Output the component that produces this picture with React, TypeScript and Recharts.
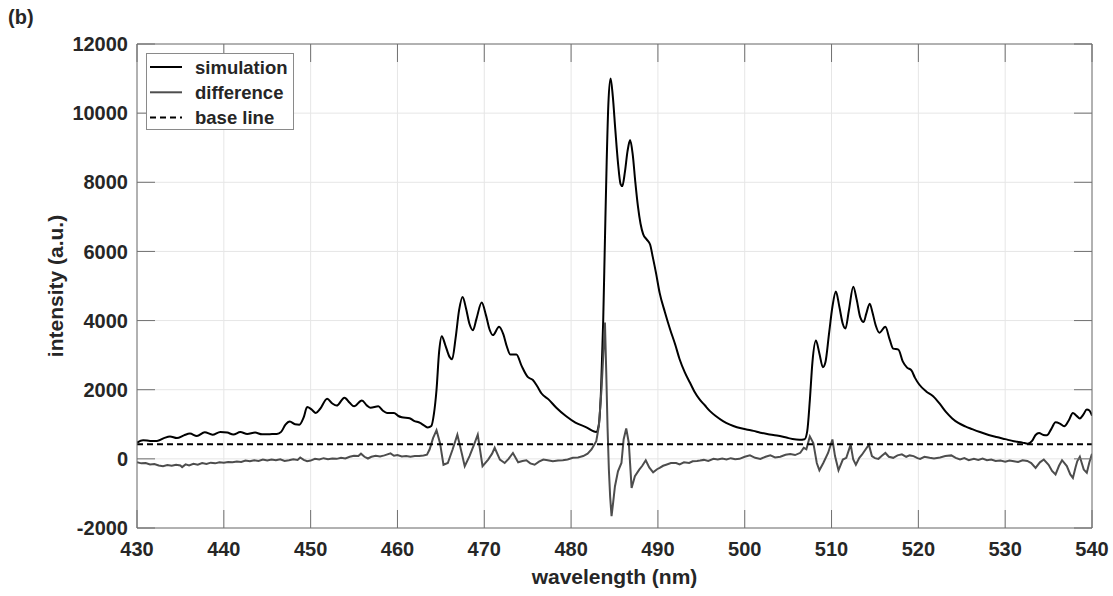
import { LineChart, Line, XAxis, YAxis, CartesianGrid, Legend } from 'recharts';

// wavelength (nm), intensity (a.u.)
const simulation: [number, number][] = [
  [430, 470], [430.7, 540], [431.5, 520], [432.3, 515], [433.1, 600], [433.8, 650], [434.6, 600], [435.4, 680],
  [436.1, 730], [436.9, 660], [437.8, 770], [438.7, 700], [439.6, 780], [440.4, 760], [441.1, 705], [441.9, 775],
  [442.7, 720], [443.6, 760], [444.4, 710], [445.3, 715], [446.1, 720], [446.6, 780], [447.1, 990], [447.6, 1080],
  [448.2, 1000], [448.7, 990], [449.2, 1200], [449.6, 1500], [450.1, 1430], [450.6, 1330], [451.1, 1450], [451.9, 1740],
  [452.5, 1600], [453.0, 1540], [453.9, 1770], [454.5, 1620], [455.0, 1520], [455.9, 1690], [456.5, 1540], [456.9, 1480],
  [457.8, 1520], [458.3, 1400], [458.8, 1330], [459.6, 1330], [460.1, 1240], [460.5, 1205], [461.4, 1175], [461.9, 1100],
  [462.6, 1040], [463.1, 960], [463.5, 910], [463.9, 950], [464.2, 1300], [464.5, 2000], [464.8, 3100], [465.1, 3550],
  [465.5, 3300], [466.0, 2950], [466.3, 2880], [466.7, 3500], [467.1, 4300], [467.5, 4680], [467.9, 4350], [468.3, 3900],
  [468.7, 3720], [469.1, 4050], [469.7, 4520], [470.2, 4150], [470.6, 3750], [471.0, 3580], [471.7, 3820], [472.2, 3600],
  [472.6, 3250], [473.0, 3020], [473.7, 3020], [474.3, 2690], [475.0, 2370], [475.6, 2280], [476.1, 2100], [476.6, 1890],
  [477.4, 1720], [478.3, 1480], [479.4, 1240], [480.5, 1050], [481.7, 920], [482.9, 775], [483.2, 1000], [483.45, 2000],
  [483.7, 4000], [483.9, 6350], [484.1, 8600], [484.3, 10300], [484.55, 11000], [484.8, 10500], [485.1, 9500], [485.4, 8570],
  [485.7, 7950], [485.9, 7890], [486.2, 8300], [486.5, 8900], [486.8, 9220], [487.1, 8800], [487.4, 8000], [487.7, 7300],
  [488.0, 6800], [488.3, 6500], [488.7, 6350], [489.1, 6200], [489.4, 5850], [489.8, 5350], [490.2, 4800], [490.8, 4250],
  [491.4, 3750], [492.0, 3300], [492.5, 2880], [493.1, 2500], [493.7, 2200], [494.2, 1950], [494.8, 1720], [495.4, 1550],
  [496.0, 1380], [496.7, 1230], [497.5, 1090], [498.3, 990], [499.1, 915], [500.2, 850], [501.0, 810], [501.8, 755],
  [502.7, 715], [503.7, 675], [504.8, 615], [505.5, 575], [506.3, 555], [506.9, 570], [507.2, 800], [507.5, 1700],
  [507.8, 2800], [508.2, 3420], [508.6, 3050], [509.0, 2650], [509.3, 2800], [509.7, 3600], [510.1, 4400], [510.5, 4840],
  [510.9, 4400], [511.3, 3900], [511.6, 3770], [512.0, 4300], [512.5, 4980], [512.9, 4600], [513.3, 4100], [513.7, 3960],
  [514.0, 4200], [514.4, 4490], [514.7, 4250], [515.1, 3850], [515.5, 3650], [516.2, 3820], [516.7, 3450], [517.1, 3190],
  [517.7, 3160], [518.2, 2820], [518.7, 2640], [519.2, 2560], [519.6, 2350], [520.1, 2150], [520.9, 1950], [521.7, 1810],
  [522.5, 1580], [523.2, 1350], [523.9, 1170], [524.6, 1040], [525.4, 940], [526.2, 860], [527.1, 775], [528.1, 690],
  [529.0, 630], [530.0, 570], [531.0, 510], [532.0, 470], [532.6, 440], [533.1, 520], [533.5, 690], [533.9, 750],
  [534.4, 690], [534.8, 680], [535.3, 860], [535.8, 1060], [536.3, 1020], [536.8, 940], [537.3, 1100], [537.8, 1330],
  [538.2, 1250], [538.6, 1170], [539.0, 1280], [539.4, 1430], [539.7, 1400], [540.0, 1250],
];

const difference: [number, number][] = [
  [430.0, -100], [430.5, -130], [431.0, -120], [431.5, -160], [432.0, -150], [432.5, -190], [433.0, -210], [433.5, -180],
  [434.0, -200], [434.5, -170], [435.0, -190], [435.2, -240], [435.6, -160], [436.0, -190], [436.5, -140], [437.0, -170],
  [437.5, -120], [438.0, -150], [438.5, -110], [439.0, -130], [439.5, -100], [440.0, -110], [440.5, -90], [441.0, -100],
  [441.5, -80], [442.0, -90], [442.5, -50], [443.0, -70], [443.5, -40], [444.0, -60], [444.5, -20], [445.0, -50],
  [445.5, -20], [446.0, -40], [446.5, -10], [447.0, -60], [447.5, -40], [448.0, -10], [448.5, -30], [448.8, 40],
  [449.2, -30], [449.6, -70], [450.0, -50], [450.5, 0], [451.0, -20], [451.5, 20], [452.0, -10], [452.5, 10],
  [453.0, 0], [453.5, 30], [454.0, 10], [454.5, 60], [455.0, 90], [455.5, 80], [455.8, 150], [456.2, 60],
  [456.6, 10], [457.0, 60], [457.5, 90], [458.0, 70], [458.5, 100], [459.2, 160], [459.6, 90], [460.0, 110],
  [460.5, 70], [461.0, 80], [461.5, 60], [462.0, 80], [462.5, 80], [463.0, 100], [463.4, 120], [463.7, 270],
  [464.1, 600], [464.5, 830], [464.9, 460], [465.3, -170], [465.8, -120], [466.35, 270], [466.9, 700], [467.4, 170],
  [467.75, -210], [468.3, 80], [468.8, 400], [469.25, 700], [469.8, -210], [470.45, -20], [470.9, 150], [471.2, 320],
  [471.8, -20], [472.35, -120], [472.8, 0], [473.3, 170], [473.9, -100], [474.4, -60], [474.85, -40], [475.3, -130],
  [475.8, -170], [476.3, -80], [476.8, -20], [477.3, -40], [477.9, -70], [478.5, -50], [479.05, -40], [479.6, -20],
  [480.2, 30], [480.8, 40], [481.4, 80], [481.9, 150], [482.35, 270], [482.9, 510], [483.2, 950], [483.5, 2000],
  [483.75, 3200], [483.9, 3940], [484.05, 2500], [484.2, 900], [484.35, -300], [484.5, -1100], [484.66, -1660], [484.85, -1250],
  [485.05, -800], [485.4, -360], [485.8, -120], [486.05, 560], [486.35, 880], [486.65, 460], [486.97, -840], [487.35, -500],
  [487.85, -310], [488.2, -200], [488.6, -40], [489.0, -250], [489.45, -390], [489.9, -300], [490.2, -260], [490.6, -200],
  [490.95, -170], [491.5, -120], [492.1, -120], [492.5, -160], [493.0, -100], [493.6, -120], [494.0, -70], [494.5, -60],
  [494.85, -50], [495.3, -30], [495.8, -60], [496.4, 0], [496.9, -20], [497.4, 10], [497.9, -20], [498.4, 20],
  [498.9, -10], [499.4, 0], [500.0, 60], [500.6, 100], [501.2, 30], [501.8, 0], [502.4, 60], [502.95, 100],
  [503.5, 40], [504.1, 60], [504.7, 120], [505.25, 140], [505.8, 110], [506.4, 175], [506.8, 320], [507.1, 280],
  [507.5, 650], [507.9, 460], [508.3, -120], [508.6, -330], [509.05, -120], [509.6, 170], [510.1, 560], [510.4, 80],
  [510.8, -330], [511.3, -20], [511.7, 30], [512.2, 410], [512.5, -20], [512.8, -170], [513.2, 30], [513.5, 120],
  [514.3, 410], [514.65, 80], [515.0, 20], [515.4, 0], [515.8, 90], [516.2, 170], [516.6, 60], [517.1, 30],
  [517.6, 100], [518.1, 130], [518.6, 60], [519.0, 100], [519.45, 80], [519.9, 20], [520.2, 0], [520.7, 60],
  [521.3, 30], [521.8, 10], [522.5, 40], [523.1, 80], [523.8, 100], [524.3, 30], [524.8, -20], [525.3, 20],
  [525.8, -40], [526.4, 0], [526.9, -30], [527.4, 10], [527.9, -40], [528.4, -20], [528.9, -60], [529.45, -50],
  [530.0, -80], [530.5, -50], [531.0, -70], [531.5, -90], [532.0, -40], [532.55, -60], [533.0, -120], [533.5, -260],
  [534.0, -100], [534.45, -20], [535.0, -170], [535.4, -350], [535.8, -450], [536.2, -200], [536.55, -40], [537.1, -210],
  [537.5, -450], [537.8, -550], [538.1, -250], [538.3, -70], [538.6, 60], [539.05, -310], [539.4, -400], [539.7, -100],
  [540.0, 150],
];

const baseLine: [number, number][] = [[430, 420], [540, 420]];

const xTicks = [430, 440, 450, 460, 470, 480, 490, 500, 510, 520, 530, 540];
const yTicks = [-2000, 0, 2000, 4000, 6000, 8000, 10000, 12000];
const seriesNames = ['simulation', 'difference', 'base line'];

const toRows = (pts: [number, number][]) => pts.map(([nm, v]) => ({ nm, v }));

const FONT = 'Arial, "Liberation Sans", Helvetica, sans-serif';
const TEXT = '#262626';
const FRAME = '#707070';

// tick marks only, no labels (used for the inner ticks of the boxed frame)
const NoLabel = () => <g />;

function LegendBox() {
  const styles = [
    { stroke: '#000', dash: undefined },
    { stroke: '#4d4d4d', dash: undefined },
    { stroke: '#000', dash: '6 4' },
  ];
  return (
    <svg width={148} height={77} style={{ display: 'block' }}>
      <rect x={0.5} y={0.5} width={147} height={76} fill="#fff" stroke="#8a8a8a" />
      {seriesNames.map((name, i) => (
        <g key={name}>
          <line x1={4} x2={36} y1={14 + i * 25.3} y2={14 + i * 25.3} stroke={styles[i].stroke}
            strokeWidth={2} strokeDasharray={styles[i].dash} />
          <text x={49} y={14 + i * 25.3} dy="0.36em" fontFamily={FONT} fontWeight="bold" fontSize={18.5} fill={TEXT}>
            {name}
          </text>
        </g>
      ))}
    </svg>
  );
}

export default function App() {
  const tickStyle = { fontFamily: FONT, fontWeight: 'bold', fontSize: 20, fill: TEXT };
  return (
    <div style={{ position: 'absolute', left: 0, top: 0, width: 1113, height: 596, background: '#fff' }}>
      <div style={{ position: 'absolute', left: 8, top: 6, fontFamily: FONT, fontWeight: 'bold', fontSize: 20, color: TEXT }}>
        (b)
      </div>
      <LineChart width={1113} height={596} margin={{ top: 44, right: 21, bottom: 0, left: 0 }}>
        <CartesianGrid xAxisId="x" yAxisId="y" stroke="#e6e6e6" strokeWidth={1} />
        <XAxis xAxisId="x" dataKey="nm" type="number" domain={[430, 540]} ticks={xTicks} allowDataOverflow
          height={68} tickLine={false} tickSize={0} tickMargin={14} axisLine={{ stroke: FRAME }} tick={tickStyle}
          label={{ value: 'wavelength (nm)', position: 'insideBottom', offset: 12, style: { ...tickStyle, fontSize: 21 } }} />
        <XAxis xAxisId="xb" dataKey="nm" type="number" domain={[430, 540]} ticks={xTicks} allowDataOverflow
          orientation="bottom" mirror height={1} tick={NoLabel} tickSize={18} axisLine={false} tickLine={{ stroke: FRAME }} />
        <XAxis xAxisId="xt" dataKey="nm" type="number" domain={[430, 540]} ticks={xTicks} allowDataOverflow
          orientation="top" mirror height={1} tick={NoLabel} tickSize={18} axisLine={{ stroke: FRAME }} tickLine={{ stroke: FRAME }} />
        <YAxis yAxisId="y" type="number" domain={[-2000, 12000]} ticks={yTicks} allowDataOverflow width={137}
          tickLine={false} tickSize={0} tickMargin={9} axisLine={{ stroke: FRAME }} tick={tickStyle}
          label={{ value: 'intensity (a.u.)', angle: -90, position: 'insideLeft', offset: 56, style: { ...tickStyle, fontSize: 21, textAnchor: 'middle' } }} />
        <YAxis yAxisId="yl" type="number" domain={[-2000, 12000]} ticks={yTicks} allowDataOverflow
          orientation="left" mirror width={1} tick={NoLabel} tickSize={18} axisLine={false} tickLine={{ stroke: FRAME }} />
        <YAxis yAxisId="yr" type="number" domain={[-2000, 12000]} ticks={yTicks} allowDataOverflow
          orientation="right" mirror width={1} tick={NoLabel} tickSize={18} axisLine={{ stroke: FRAME }} tickLine={{ stroke: FRAME }} />
        <Line data={toRows(simulation)} dataKey="v" xAxisId="x" yAxisId="y" type="monotone" stroke="#000"
          strokeWidth={2} dot={false} isAnimationActive={false} name={seriesNames[0]} />
        <Line data={toRows(difference)} dataKey="v" xAxisId="x" yAxisId="y" type="linear" stroke="#4d4d4d"
          strokeWidth={2} dot={false} isAnimationActive={false} name={seriesNames[1]} />
        <Line data={toRows(baseLine)} dataKey="v" xAxisId="x" yAxisId="y" type="linear" stroke="#000"
          strokeWidth={2} strokeDasharray="6 4" dot={false} isAnimationActive={false} name={seriesNames[2]} />
        <Legend layout="vertical" align="center" verticalAlign="middle" content={() => <LegendBox />}
          wrapperStyle={{ position: 'absolute', left: 146, top: 53, width: 148, height: 77 }} />
      </LineChart>
    </div>
  );
}
